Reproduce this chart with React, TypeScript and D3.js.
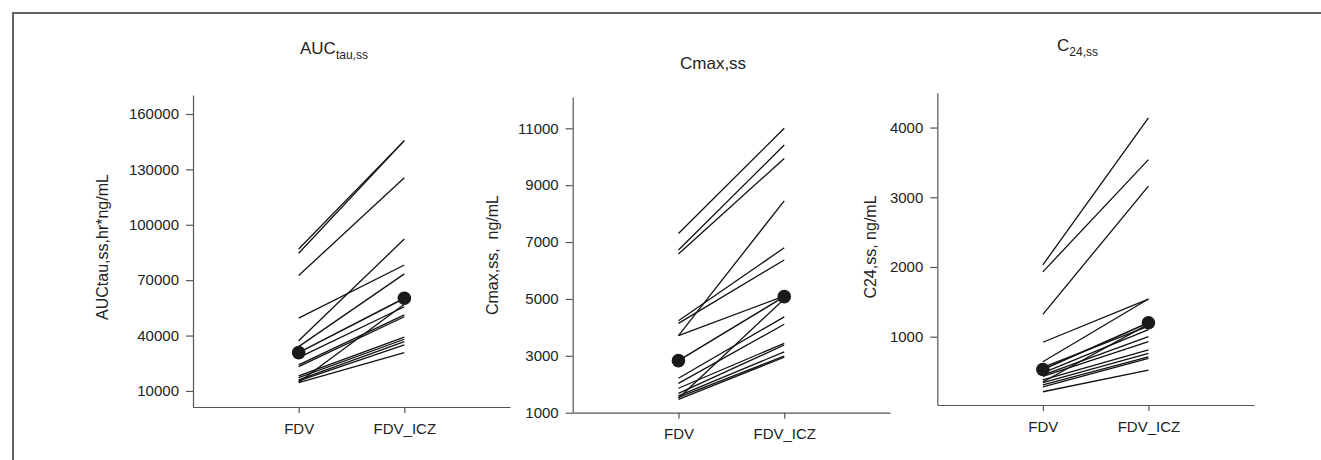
import { useRef, useEffect } from "react";
import * as d3 from "d3";

const groups = ["FDV", "FDV_ICZ"];

// AUC tau,ss (hr*ng/mL), one entry per subject
const aucFDV = [86900, 84600, 72500, 49400, 37200, 34000, 28000, 24100, 23200, 14700, 18100, 17200, 16000, 15500, 14500];
const aucICZ = [145600, 145600, 125500, 78200, 92300, 73400, 55600, 51200, 50200, 57000, 39100, 38000, 36700, 34900, 30800];
const aucMean = [30750, 60200];
const aucTicks = [10000, 40000, 70000, 100000, 130000, 160000];

// Cmax,ss (ng/mL)
const cmaxFDV = [7300, 6720, 6580, 4230, 4140, 3710, 3710, 2210, 2030, 1510, 1860, 1680, 1590, 1540, 1470];
const cmaxICZ = [11000, 10410, 9940, 6800, 6370, 8450, 5100, 4370, 4110, 5000, 3440, 3380, 3140, 2990, 2950];
const cmaxMean = [2830, 5080];
const cmaxTicks = [1000, 3000, 5000, 7000, 9000, 11000];

// C24,ss (ng/mL)
const c24FDV = [2030, 1930, 1320, 920, 640, 560, 480, 450, 430, 380, 340, 310, 280, 210, 350];
const c24ICZ = [4140, 3540, 3160, 1540, 1540, 1150, 1100, 1000, 930, 810, 760, 710, 690, 520, 1180];
const c24Mean = [530, 1200];
const c24Ticks = [1000, 2000, 3000, 4000];

const width = 1321;
const height = 460;
const font = "'Liberation Sans', Arial, sans-serif";

const panels = [
  {
    fdv: aucFDV, icz: aucICZ, mean: aucMean, ticks: aucTicks,
    domain: [1300, 170300], x0: 193, x1: 510, yBottom: 407, yTop: 95,
    yLabel: "AUCtau,ss,hr*ng/mL", yLabelX: 108, yLabelY: 247,
    title: ["AUC", "tau,ss"], titleX: 300, titleY: 54,
  },
  {
    fdv: cmaxFDV, icz: cmaxICZ, mean: cmaxMean, ticks: cmaxTicks,
    domain: [1000, 12100], x0: 572.7, x1: 890, yBottom: 412.7, yTop: 97,
    yLabel: "Cmax,ss,  ng/mL", yLabelX: 498, yLabelY: 255,
    title: ["Cmax,ss", ""], titleX: 680, titleY: 69,
  },
  {
    fdv: c24FDV, icz: c24ICZ, mean: c24Mean, ticks: c24Ticks,
    domain: [20, 4500], x0: 937.3, x1: 1254, yBottom: 405, yTop: 92.7,
    yLabel: "C24,ss, ng/mL", yLabelX: 876, yLabelY: 247,
    title: ["C", "24,ss"], titleX: 1057, titleY: 51,
  },
];

const App = () => {
  const svgRef = useRef();

  useEffect(() => {
    const svg = d3.select(svgRef.current);
    svg.selectAll("*").remove();

    svg.append("rect").attr("width", width).attr("height", height).attr("fill", "#fff");

    // frame (top and left edges only)
    svg.append("path")
      .attr("d", `M13,${height} L13,13 L${width},13`)
      .attr("fill", "none")
      .attr("stroke", "#666")
      .attr("stroke-width", 2);

    panels.forEach((p) => {
      const g = svg.append("g");

      const x = d3.scalePoint().domain(groups).range([p.x0, p.x1]).padding(1);
      const y = d3.scaleLinear().domain(p.domain).range([p.yBottom, p.yTop]);

      const yAxis = g.append("g")
        .attr("transform", `translate(${p.x0},0)`)
        .call(d3.axisLeft(y).tickValues(p.ticks).tickFormat(d3.format("d")).tickSize(7).tickSizeOuter(0).tickPadding(7));

      const xAxis = g.append("g")
        .attr("transform", `translate(0,${p.yBottom})`)
        .call(d3.axisBottom(x).tickSize(6).tickSizeOuter(0).tickPadding(10));

      [yAxis, xAxis].forEach((a) => {
        a.selectAll("path, line").attr("stroke", "#555").attr("stroke-width", 1.2);
        a.selectAll("text")
          .attr("fill", "#222")
          .style("font-family", font)
          .style("font-size", "15px");
      });

      const line = d3.line().x((d) => d[0]).y((d) => d[1]);
      p.fdv.forEach((v, i) => {
        g.append("path")
          .attr("d", line([[x("FDV"), y(v)], [x("FDV_ICZ"), y(p.icz[i])]]))
          .attr("stroke", "#111")
          .attr("stroke-width", 1.3)
          .attr("fill", "none");
      });

      g.append("path")
        .attr("d", line([[x("FDV"), y(p.mean[0])], [x("FDV_ICZ"), y(p.mean[1])]]))
        .attr("stroke", "#111")
        .attr("stroke-width", 1.6)
        .attr("fill", "none");

      g.selectAll("circle.mean")
        .data(p.mean)
        .enter()
        .append("circle")
        .attr("cx", (d, i) => x(groups[i]))
        .attr("cy", (d) => y(d))
        .attr("r", 6.8)
        .attr("fill", "#1a1a1a");

      g.append("text")
        .attr("transform", `translate(${p.yLabelX},${p.yLabelY}) rotate(-90)`)
        .attr("text-anchor", "middle")
        .style("white-space", "pre")
        .style("font-family", font)
        .style("font-size", "16px")
        .attr("fill", "#222")
        .text(p.yLabel);

      const t = g.append("text")
        .attr("x", p.titleX)
        .attr("y", p.titleY)
        .style("font-family", font)
        .style("font-size", "17px")
        .attr("fill", "#222");
      t.append("tspan").text(p.title[0]);
      if (p.title[1]) {
        t.append("tspan").attr("dy", 5).style("font-size", "12px").text(p.title[1]);
      }
    });
  }, []);

  return (
    <svg
      ref={svgRef}
      width={width}
      height={height}
      style={{ position: "absolute", left: 0, top: 0, display: "block" }}
    ></svg>
  );
};

export default App;
